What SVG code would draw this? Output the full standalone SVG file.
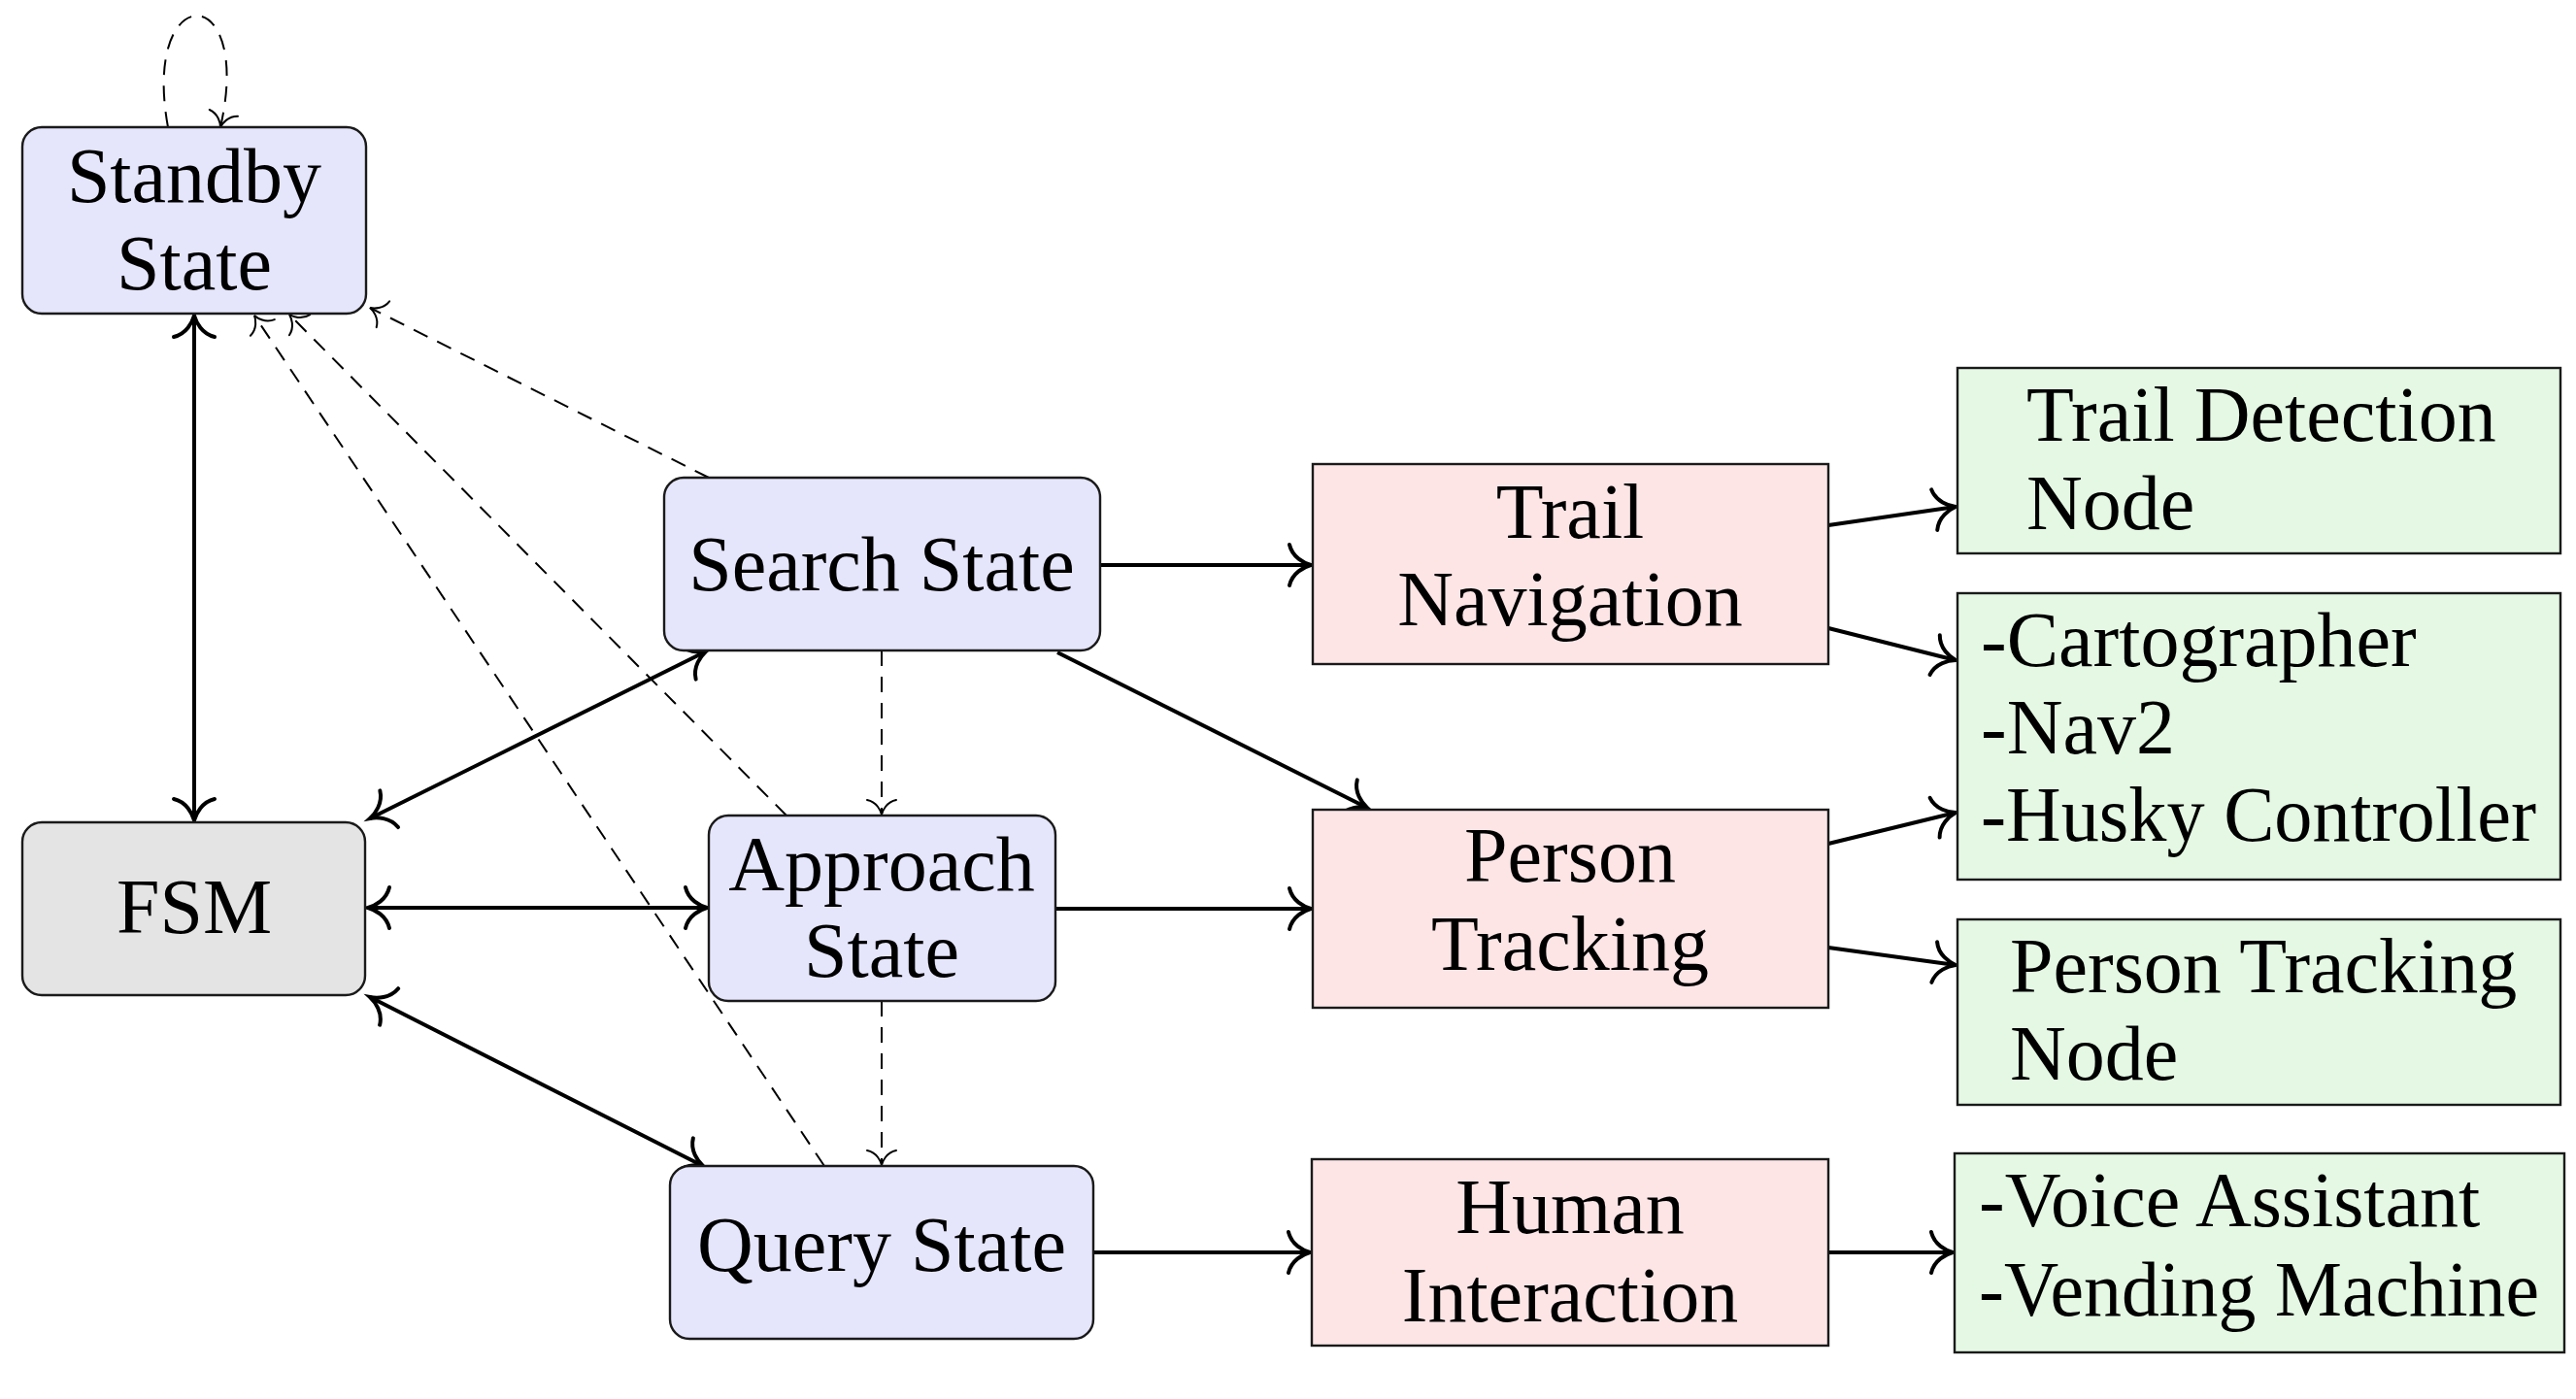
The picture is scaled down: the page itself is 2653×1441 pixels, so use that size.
<svg xmlns="http://www.w3.org/2000/svg" width="2653" height="1441" viewBox="0 0 2653 1441">
<style>
  .state { fill: #E5E5FC; stroke: #1a1a1a; stroke-width: 2.4; }
  .fsm { fill: #E4E4E4; stroke: #1a1a1a; stroke-width: 2.4; }
  .module { fill: #FDE5E6; stroke: #1a1a1a; stroke-width: 2.4; }
  .node { fill: #E4F8E4; stroke: #1a1a1a; stroke-width: 2.4; }
  text { font-family: "Liberation Serif", "DejaVu Serif", serif; font-size: 80px; fill: #000; }
  .c { text-anchor: middle; }
  .solid { fill: none; stroke: #000; stroke-width: 4; }
  .dash { fill: none; stroke: #000; stroke-width: 2; stroke-dasharray: 16 11; }
</style>
<defs>
  <marker id="ah" markerUnits="userSpaceOnUse" viewBox="-30 -30 36 60" refX="0" refY="0" markerWidth="36" markerHeight="60" orient="auto-start-reverse" overflow="visible">
    <path d="M-22,-21 C-19,-8 -7,-2 0,0 C-7,2 -19,8 -22,21" fill="none" stroke="#000" stroke-width="4" stroke-linecap="round" stroke-dasharray="none"/>
  </marker>
  <marker id="ahd" markerUnits="userSpaceOnUse" viewBox="-20 -20 24 40" refX="0" refY="0" markerWidth="24" markerHeight="40" orient="auto" overflow="visible">
    <path d="M-15,-15 C-13,-5 -4,-1 0,0 C-4,1 -13,5 -15,15" fill="none" stroke="#000" stroke-width="2" stroke-linecap="round" stroke-dasharray="none"/>
  </marker>
</defs>

<g id="connectors">
  <line class="solid" x1="200" y1="325" x2="200" y2="845" marker-start="url(#ah)" marker-end="url(#ah)"/>
  <line class="solid" x1="381" y1="843" x2="727" y2="671" marker-start="url(#ah)" marker-end="url(#ah)"/>
  <line class="solid" x1="379" y1="935" x2="728" y2="935" marker-start="url(#ah)" marker-end="url(#ah)"/>
  <line class="solid" x1="381" y1="1027" x2="724" y2="1201" marker-start="url(#ah)" marker-end="url(#ah)"/>
  <line class="solid" x1="1133" y1="582" x2="1350" y2="582" marker-end="url(#ah)"/>
  <line class="solid" x1="1089" y1="672" x2="1408" y2="832" marker-end="url(#ah)"/>
  <line class="solid" x1="1087" y1="936" x2="1350" y2="936" marker-end="url(#ah)"/>
  <line class="solid" x1="1126" y1="1290" x2="1349" y2="1290" marker-end="url(#ah)"/>
  <line class="solid" x1="1883" y1="541" x2="2014" y2="522" marker-end="url(#ah)"/>
  <line class="solid" x1="1883" y1="647" x2="2014" y2="680" marker-end="url(#ah)"/>
  <line class="solid" x1="1883" y1="869" x2="2014" y2="837" marker-end="url(#ah)"/>
  <line class="solid" x1="1883" y1="976" x2="2014" y2="994" marker-end="url(#ah)"/>
  <line class="solid" x1="1883" y1="1290" x2="2011" y2="1290" marker-end="url(#ah)"/>
  <path class="dash" d="M173,131 C145,-22 262,-22 227,131" marker-end="url(#ahd)"/>
  <line class="dash" x1="730" y1="492" x2="381" y2="317" marker-end="url(#ahd)"/>
  <line class="dash" x1="810" y1="840" x2="298" y2="324" marker-end="url(#ahd)"/>
  <line class="dash" x1="849" y1="1201" x2="262" y2="325" marker-end="url(#ahd)"/>
  <line class="dash" x1="908" y1="670" x2="908" y2="839" marker-end="url(#ahd)"/>
  <line class="dash" x1="908" y1="1031" x2="908" y2="1200" marker-end="url(#ahd)"/>
</g>

<g id="standby">
  <rect class="state" x="23" y="131" width="354" height="192" rx="20"/>
  <text class="c" x="200" y="208">Standby</text>
  <text class="c" x="200" y="298">State</text>
</g>
<g id="fsm">
  <rect class="fsm" x="23" y="847" width="353" height="178" rx="20"/>
  <text class="c" x="200" y="961">FSM</text>
</g>
<g id="search">
  <rect class="state" x="684" y="492" width="449" height="178" rx="20"/>
  <text class="c" x="908" y="608">Search State</text>
</g>
<g id="approach">
  <rect class="state" x="730" y="840" width="357" height="191" rx="20"/>
  <text class="c" x="908" y="917">Approach</text>
  <text class="c" x="908" y="1006">State</text>
</g>
<g id="query">
  <rect class="state" x="690" y="1201" width="436" height="178" rx="20"/>
  <text class="c" x="908" y="1309">Query State</text>
</g>

<g id="trail-navigation">
  <rect class="module" x="1352" y="478" width="531" height="206"/>
  <text class="c" x="1617" y="554">Trail</text>
  <text class="c" x="1617" y="644">Navigation</text>
</g>
<g id="person-tracking">
  <rect class="module" x="1352" y="834" width="531" height="204"/>
  <text class="c" x="1617" y="908">Person</text>
  <text class="c" x="1617" y="999">Tracking</text>
</g>
<g id="human-interaction">
  <rect class="module" x="1351" y="1194" width="532" height="192"/>
  <text class="c" x="1617" y="1270">Human</text>
  <text class="c" x="1617" y="1361">Interaction</text>
</g>

<g id="trail-detection-node">
  <rect class="node" x="2016" y="379" width="621" height="191"/>
  <text x="2087" y="454">Trail Detection</text>
  <text x="2087" y="545">Node</text>
</g>
<g id="nav-stack">
  <rect class="node" x="2016" y="611" width="621" height="295"/>
  <text x="2040" y="686">-Cartographer</text>
  <text x="2040" y="776">-Nav2</text>
  <text x="2040" y="866" textLength="572" lengthAdjust="spacingAndGlyphs">-Husky Controller</text>
</g>
<g id="person-tracking-node">
  <rect class="node" x="2016" y="947" width="621" height="191"/>
  <text x="2070" y="1022">Person Tracking</text>
  <text x="2070" y="1112">Node</text>
</g>
<g id="interaction-nodes">
  <rect class="node" x="2013" y="1188" width="628" height="205"/>
  <text x="2038" y="1263">-Voice Assistant</text>
  <text x="2038" y="1355" textLength="577" lengthAdjust="spacingAndGlyphs">-Vending Machine</text>
</g>
</svg>
